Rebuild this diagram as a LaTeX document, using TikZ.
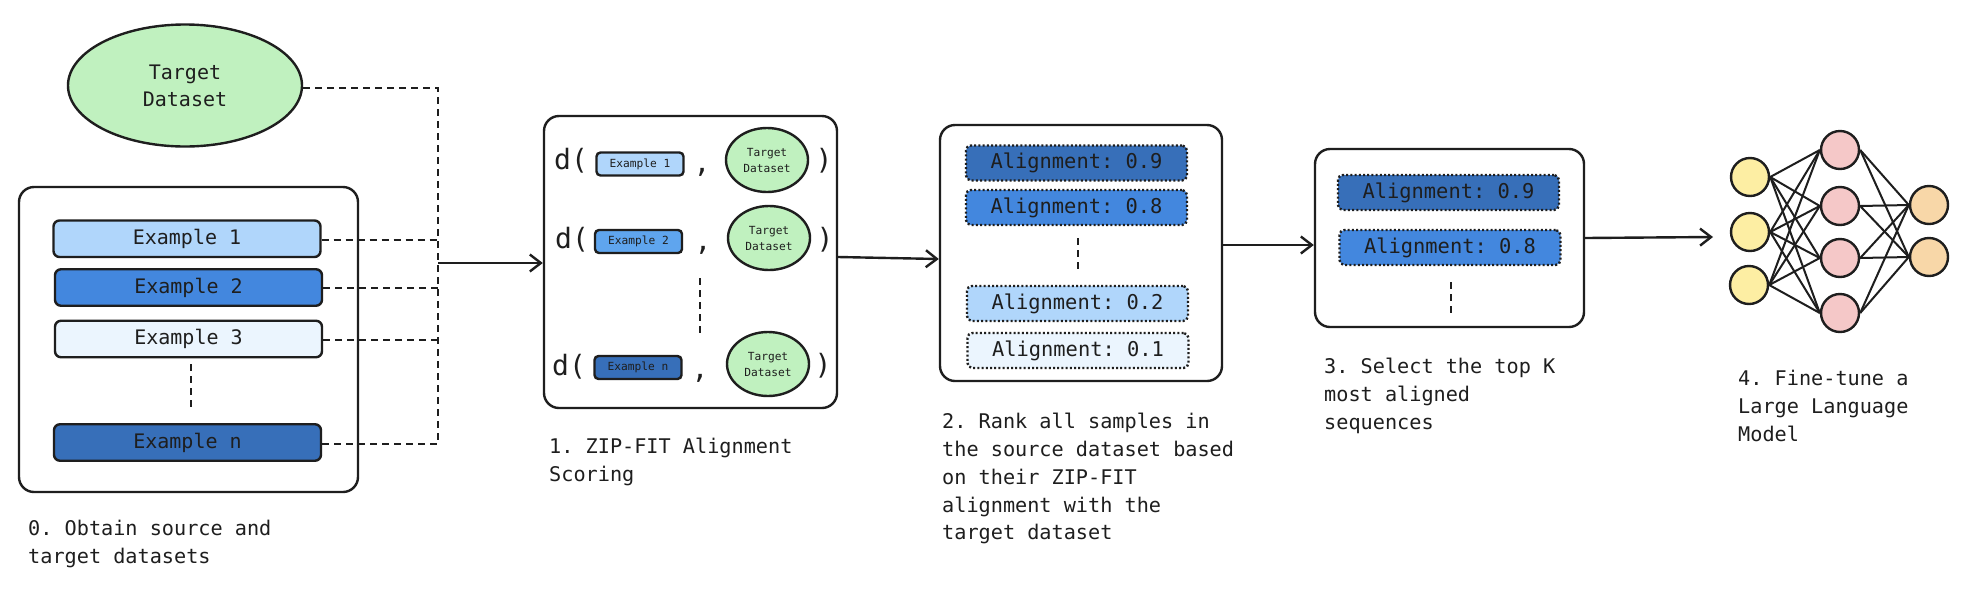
\documentclass[tikz,border=0pt]{standalone}
\usepackage{fontspec}
\setmonofont{DejaVu Sans Mono}
\usetikzlibrary{arrows.meta,shapes.geometric}
\definecolor{ink}{HTML}{1E1E1E}
\definecolor{tgreen}{HTML}{C0F1BF}
\definecolor{blA}{HTML}{B0D6FB}
\definecolor{blB}{HTML}{4387DE}
\definecolor{blC}{HTML}{EBF5FE}
\definecolor{blD}{HTML}{376FB9}
\definecolor{blE}{HTML}{5FA5EE}
\definecolor{nnY}{HTML}{FDEEA3}
\definecolor{nnP}{HTML}{F5C8C8}
\definecolor{nnO}{HTML}{F8D7A8}
\tikzset{
  panel/.style={draw=ink,line width=2.4pt,rounded corners=15pt,fill=white,inner sep=0pt},
  examplebar/.style={draw=ink,line width=2.4pt,rounded corners=6pt,inner sep=0pt,minimum width=267pt,minimum height=36.5pt,text=ink,font=\ttfamily\fontsize{20}{20}\selectfont},
  minibar/.style={draw=ink,line width=2.4pt,rounded corners=4pt,inner sep=0pt,minimum width=87pt,minimum height=23pt,text=ink,font=\ttfamily\fontsize{11.2}{11.2}\selectfont},
  minitarget/.style={ellipse,draw=ink,line width=2.4pt,fill=tgreen,inner sep=0pt,minimum width=82pt,minimum height=64pt,align=center,text=ink,font=\ttfamily\fontsize{11.2}{16}\selectfont},
  scorebar/.style={draw=ink,line width=2.4pt,dash pattern=on 2pt off 2.2pt,rounded corners=5pt,inner sep=0pt,minimum width=221pt,minimum height=35pt,text=ink,font=\ttfamily\fontsize{20.4}{20.4}\selectfont},
  bigsym/.style={inner sep=0pt,text=ink,font=\ttfamily\fontsize{28}{28}\selectfont},
  caption/.style={inner sep=0pt,anchor=north west,align=left,text=ink,font=\ttfamily\fontsize{20.2}{27.8}\selectfont},
  dashline/.style={draw=ink,line width=2.4pt,dash pattern=on 7pt off 5pt},
  dots/.style={draw=ink,line width=2.4pt,dash pattern=on 7pt off 5pt},
  flow/.style={draw=ink,line width=2.4pt,-{Straight Barb[length=11pt,width=17pt,line width=2.4pt]}},
  neuron/.style={ellipse,draw=ink,line width=2.4pt,inner sep=0pt,minimum width=38pt,minimum height=38pt},
  synapse/.style={draw=ink,line width=2pt},
}
\begin{document}
\begin{tikzpicture}[x=1pt,y=-1pt]
\useasboundingbox (0,0) rectangle (1964,590);
\fill[white] (0,0) rectangle (1964,590);
% target
\node[ellipse,draw=ink,line width=2.4pt,fill=tgreen,inner sep=0pt,minimum width=234pt,minimum height=122pt,align=center,text=ink,font=\ttfamily\fontsize{20}{27}\selectfont] (target) at (185,85.5) {Target\\Dataset};
% source panel
\node[panel,minimum width=339pt,minimum height=305pt] (src) at (188.5,339.5) {};
\node[examplebar,fill=blA] (ex1) at (187,238.75) {Example 1};
\node[examplebar,fill=blB] (ex2) at (188.5,287.5) {Example 2};
\node[examplebar,fill=blC] (ex3) at (188.5,339) {Example 3};
\node[examplebar,fill=blD] (exn) at (187.5,442.5) {Example n};
\coordinate (srcA) at (191,364);
\coordinate (srcB) at (191,408);
\draw[dots] (srcA) -- (srcB);
% bus
\coordinate (busT) at (438,88);
\coordinate (busB) at (438,444);
\coordinate (bus1) at (438,240);
\coordinate (bus2) at (438,288);
\coordinate (bus3) at (438,340);
\coordinate (busM) at (438,263);
\draw[dashline] (target.east |- busT) -- (busT) -- (busB) -- (exn.east |- busB);
\draw[dashline] (ex1.east |- bus1) -- (bus1);
\draw[dashline] (ex2.east |- bus2) -- (bus2);
\draw[dashline] (ex3.east |- bus3) -- (bus3);
% scoring panel
\node[panel,minimum width=293pt,minimum height=292pt] (score) at (690.5,262) {};
\draw[flow] (busM) -- (score.west |- busM);
\node[bigsym] (d1) at (571,161) {d(};
\node[minibar,fill=blA] (m1) at (640,164) {Example 1};
\node[bigsym] (c1) at (702,172) {,};
\node[minitarget] (t1) at (767,160) {Target\\Dataset};
\node[bigsym] (p1) at (824,161) {)};
\node[bigsym] (d2) at (572,240) {d(};
\node[minibar,fill=blE] (m2) at (638.5,241.5) {Example 2};
\node[bigsym] (c2) at (703,250) {,};
\node[minitarget] (t2) at (769,238) {Target\\Dataset};
\node[bigsym] (p2) at (825,240) {)};
\node[bigsym] (d3) at (569,367) {d(};
\node[minibar,fill=blD] (m3) at (638,367.5) {Example n};
\node[bigsym] (c3) at (700,378) {,};
\node[minitarget] (t3) at (768,364) {Target\\Dataset};
\node[bigsym] (p3) at (823,366) {)};
\coordinate (scA) at (700,278);
\coordinate (scB) at (700,335);
\draw[dots] (scA) -- (scB);
% rank panel
\node[panel,minimum width=282pt,minimum height=256pt] (rank) at (1081,253) {};
\draw[flow] (score.east |- 0,257) -- (rank.west |- 0,259);
\node[scorebar,fill=blD] (r1) at (1076.5,163) {Alignment: 0.9};
\node[scorebar,fill=blB] (r2) at (1076.5,207.5) {Alignment: 0.8};
\node[scorebar,fill=blA] (r3) at (1077.5,303.5) {Alignment: 0.2};
\node[scorebar,fill=blC] (r4) at (1078,350.5) {Alignment: 0.1};
\coordinate (raA) at (1078,238);
\coordinate (raB) at (1078,270);
\draw[dots] (raA) -- (raB);
% select panel
\node[panel,minimum width=269pt,minimum height=178pt] (sel) at (1449.5,238) {};
\draw[flow] (rank.east |- 0,245) -- (sel.west |- 0,245);
\node[scorebar,fill=blD] (s1) at (1448.5,192.5) {Alignment: 0.9};
\node[scorebar,fill=blB] (s2) at (1450,247.5) {Alignment: 0.8};
\coordinate (seA) at (1451,282);
\coordinate (seB) at (1451,313);
\draw[dots] (seA) -- (seB);
% network
\coordinate (nnIn) at (1713,237);
\draw[flow] (sel.east |- 0,238) -- (nnIn);
\node[neuron,fill=nnY] (y1) at (1750,177) {};
\node[neuron,fill=nnY] (y2) at (1750,232) {};
\node[neuron,fill=nnY] (y3) at (1749,285) {};
\node[neuron,fill=nnP] (n1) at (1840,150) {};
\node[neuron,fill=nnP] (n2) at (1840,206) {};
\node[neuron,fill=nnP] (n3) at (1840,258) {};
\node[neuron,fill=nnP] (n4) at (1840,313) {};
\node[neuron,fill=nnO] (o1) at (1929,205) {};
\node[neuron,fill=nnO] (o2) at (1929,257) {};
\foreach \a in {y1,y2,y3}\foreach \b in {n1,n2,n3,n4}\draw[synapse] (\a.east) -- (\b.west);
\foreach \a in {n1,n2,n3,n4}\foreach \b in {o1,o2}\draw[synapse] (\a.east) -- (\b.west);
% captions
\node[caption] (cap0) at (28,520) {0. Obtain source and\\target datasets};
\node[caption] (cap1) at (549,438) {1. ZIP-FIT Alignment\\Scoring};
\node[caption] (cap2) at (942,413) {2. Rank all samples in\\the source dataset based\\on their ZIP-FIT\\alignment with the\\target dataset};
\node[caption] (cap3) at (1324,358) {3. Select the top K\\most aligned\\sequences};
\node[caption] (cap4) at (1738,370) {4. Fine-tune a\\Large Language\\Model};
\end{tikzpicture}
\end{document}
